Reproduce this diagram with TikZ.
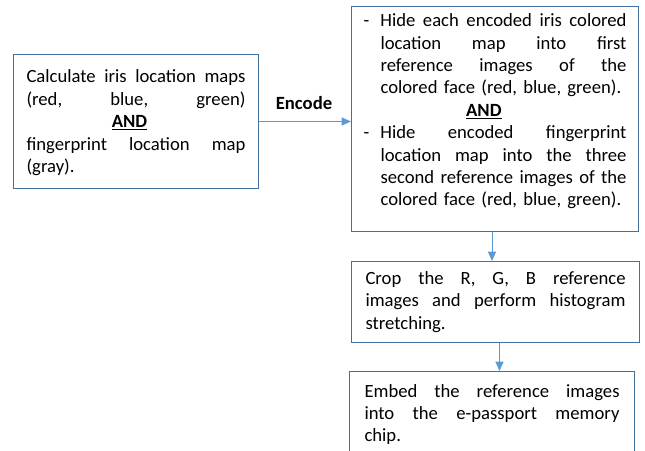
\documentclass[tikz,border=0pt]{standalone}
\usepackage{fontspec}
\setmainfont{Carlito}
\usetikzlibrary{arrows.meta}
\definecolor{boxblue}{HTML}{41719C}
\definecolor{arrowblue}{HTML}{5B9BD5}
\newcommand{\fline}[1]{\makebox[\hsize][s]{\spaceskip=0pt\xspaceskip=0pt #1}\\}
\newcommand{\bline}[2]{\makebox[12.75pt][l]{#1}\makebox[\dimexpr\hsize-12.75pt\relax][s]{\spaceskip=0pt\xspaceskip=0pt #2}\\}
\newcommand{\andline}[1]{\hspace*{#1}\textbf{\underline{AND}}\\}

\begin{document}
\begin{tikzpicture}[x=0.75pt, y=-0.75pt,
  every node/.style={font=\fontsize{14}{16.8}\selectfont},
  box/.style={draw=boxblue, line width=0.75pt, rectangle, anchor=north west,
    align=left, inner xsep=0pt,
    execute at begin node=\setlength{\parindent}{0pt}},
  arr/.style={draw=arrowblue, line width=0.75pt, -{Triangle[length=7pt,width=6pt]}}]
            \useasboundingbox (0, 0) rectangle (645, 450);
            \clip (0, 0) rectangle (645, 450);
            \draw (13, 54) node[box, minimum width=183.75pt, minimum height=100.5pt, text width=164.25pt, text depth=67.6pt](calc){%
              \fline{Calculate iris location maps}
              \fline{(red, blue, green)}
              \andline{64pt}
              \fline{fingerprint location map}
              (gray).};
            \draw (351, 6) node[box, minimum width=215.25pt, minimum height=168.75pt, text width=197.25pt, text depth=148.3pt](hide){%
              \bline{-}{Hide each encoded iris colored}
              \bline{}{location map into first}
              \bline{}{reference images of the}
              \makebox[12.75pt][l]{}colored face (red, blue, green).\\
              \andline{77pt}
              \bline{-}{Hide encoded fingerprint}
              \bline{}{location map into the three}
              \bline{}{second reference images of the}
              \makebox[12.75pt][l]{}colored face (red, blue, green).};
            \draw (351, 261) node[box, minimum width=216pt, minimum height=60.75pt, text width=195pt](crop){%
              \fline{Crop the R, G, B reference}
              \fline{images and perform histogram}
              stretching.};
            \draw (349, 371) node[box, minimum width=213.75pt, inner ysep=9.5pt, text depth=60pt, text width=191.25pt](embed){%
              \fline{Embed the reference images}
              \fline{into the e-passport memory}
              chip.};
            \draw (304, 103) node[font=\fontsize{14}{16.8}\selectfont\bfseries](enc){Encode};
            \draw[arr] (calc) -- (calc -| hide.west);
            \draw[arr] ([xshift=-2.25pt]hide.south) -- ([xshift=-2.25pt]hide.south |- crop.north);
            \draw[arr] ([xshift=3pt]crop.south) -- ([xshift=3pt]crop.south |- embed.north);
        \end{tikzpicture}
\end{document}
